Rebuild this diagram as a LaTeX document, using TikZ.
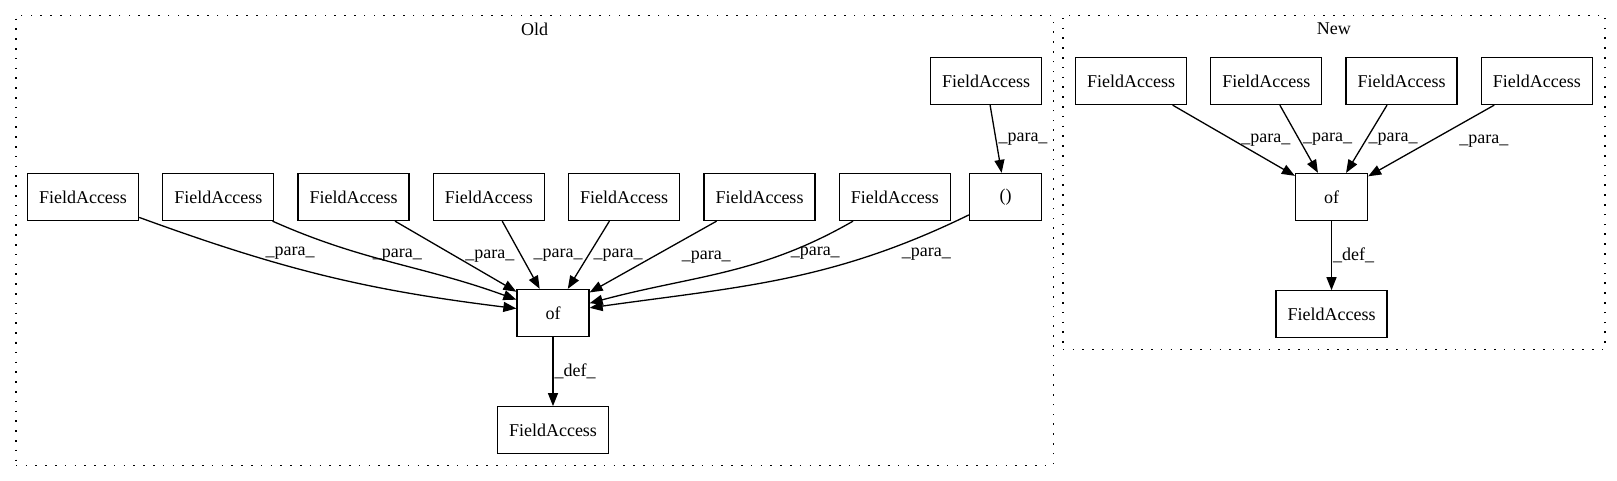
\documentclass[tikz,border=0pt]{standalone}
\usepackage{fontspec}
\setmainfont{Liberation Serif}
\usetikzlibrary{positioning}
\usetikzlibrary{fit}
\usetikzlibrary{arrows.meta}

\tikzset{
  box/.style={rectangle, draw=black, line width=1.3pt, minimum width=72pt, minimum height=47pt, inner sep=0pt, font=\fontsize{18}{20}\selectfont},
  field/.style={box, minimum width=111pt},
  plate/.style={rectangle, draw=black, line width=1.5pt, dash pattern=on 1.6pt off 8.2pt, inner sep=11pt},
  title/.style={inner sep=0pt, font=\fontsize{18}{20}\selectfont},
  lbl/.style={inner sep=0pt, font=\fontsize{18}{20}\selectfont},
  para/.style={-{Triangle[length=13pt,width=10pt]}, line width=1.3pt},
}

\begin{document}
\begin{tikzpicture}[x=1pt, y=1pt]
    \useasboundingbox (0,0) rectangle (1617,-480);

    % Old: arguments
    \node[field] (b1) at (83,-197) {FieldAccess};
    \node[field, right=23pt of b1] (b2) {FieldAccess};
    \node[field, right=23pt of b2] (b3) {FieldAccess};
    \node[field, right=23pt of b3] (b4) {FieldAccess};
    \node[field, right=23pt of b4] (b5) {FieldAccess};
    \node[field, right=23pt of b5] (b6) {FieldAccess};
    \node[field, right=23pt of b6] (b7) {FieldAccess};
    \node[box] (res1) at (1005.7,-197) {()};
    \node[field] (fa0) at (986,-81) {FieldAccess};
    \draw[para] (fa0) -- node[lbl, right=2pt] {\_para\_} (res1);

    % Old: call and result
    \node[box] (of1) at (553,-313) {of};
    \node[field, below=69pt of of1] (fa8) {FieldAccess};
    \draw[para] (of1) -- node[lbl, right=1pt] {\_def\_} (fa8);

    \draw[para] (b1) to[out=-20, in=173] node[lbl, pos=0.4, above=7pt] {\_para\_} (of1);
    \draw[para] (b2) to[out=-24, in=160] node[lbl, pos=0.38, right=6pt] {\_para\_} (of1);
    \draw[para] (b3) -- node[lbl, right=9pt] {\_para\_} (of1);
    \draw[para] (b4) -- node[lbl, right=12pt] {\_para\_} (of1);
    \draw[para] (b5) -- node[lbl, right=4.5pt] {\_para\_} (of1);
    \draw[para] (b6) -- node[lbl, right=28pt] {\_para\_} (of1);
    \draw[para] (b7) to[out=210, in=15] node[lbl, pos=0.25, right=3pt] {\_para\_} (of1);
    \draw[para] (res1) to[out=206, in=8] node[lbl, pos=0.25, right=28pt] {\_para\_} (of1);

    % New: arguments
    \node[field] (n1) at (1131,-81) {FieldAccess};
    \node[field, right=23pt of n1] (n2) {FieldAccess};
    \node[field, right=23pt of n2] (n3) {FieldAccess};
    \node[field, right=23pt of n3] (n4) {FieldAccess};

    % New: call and result
    \node[box] (of2) at (1331.5,-197) {of};
    \node[field, below=69pt of of2] (nb) {FieldAccess};
    \draw[para] (of2) -- node[lbl, right=1pt] {\_def\_} (nb);

    \draw[para] (n1) -- node[lbl, right=7pt] {\_para\_} (of2);
    \draw[para] (n2) -- node[lbl, right=3.5pt] {\_para\_} (of2);
    \draw[para] (n3) -- node[lbl, right=1.5pt] {\_para\_} (of2);
    \draw[para] (n4) -- node[lbl, right=27.5pt] {\_para\_} (of2);

    % Plates
    \node[plate, fit={(b1) (fa8) (res1) ([yshift=30.5pt]fa0.north)}] (oldplate) {};
    \node[title, below=8pt of oldplate.north] (oldtitle) {Old};
    \node[plate, fit={(n1) (n4) (nb) ([yshift=30.5pt]n1.north)}, inner xsep=12pt] (newplate) {};
    \node[title, below=8pt of newplate.north] (newtitle) {New};
\end{tikzpicture}
\end{document}
